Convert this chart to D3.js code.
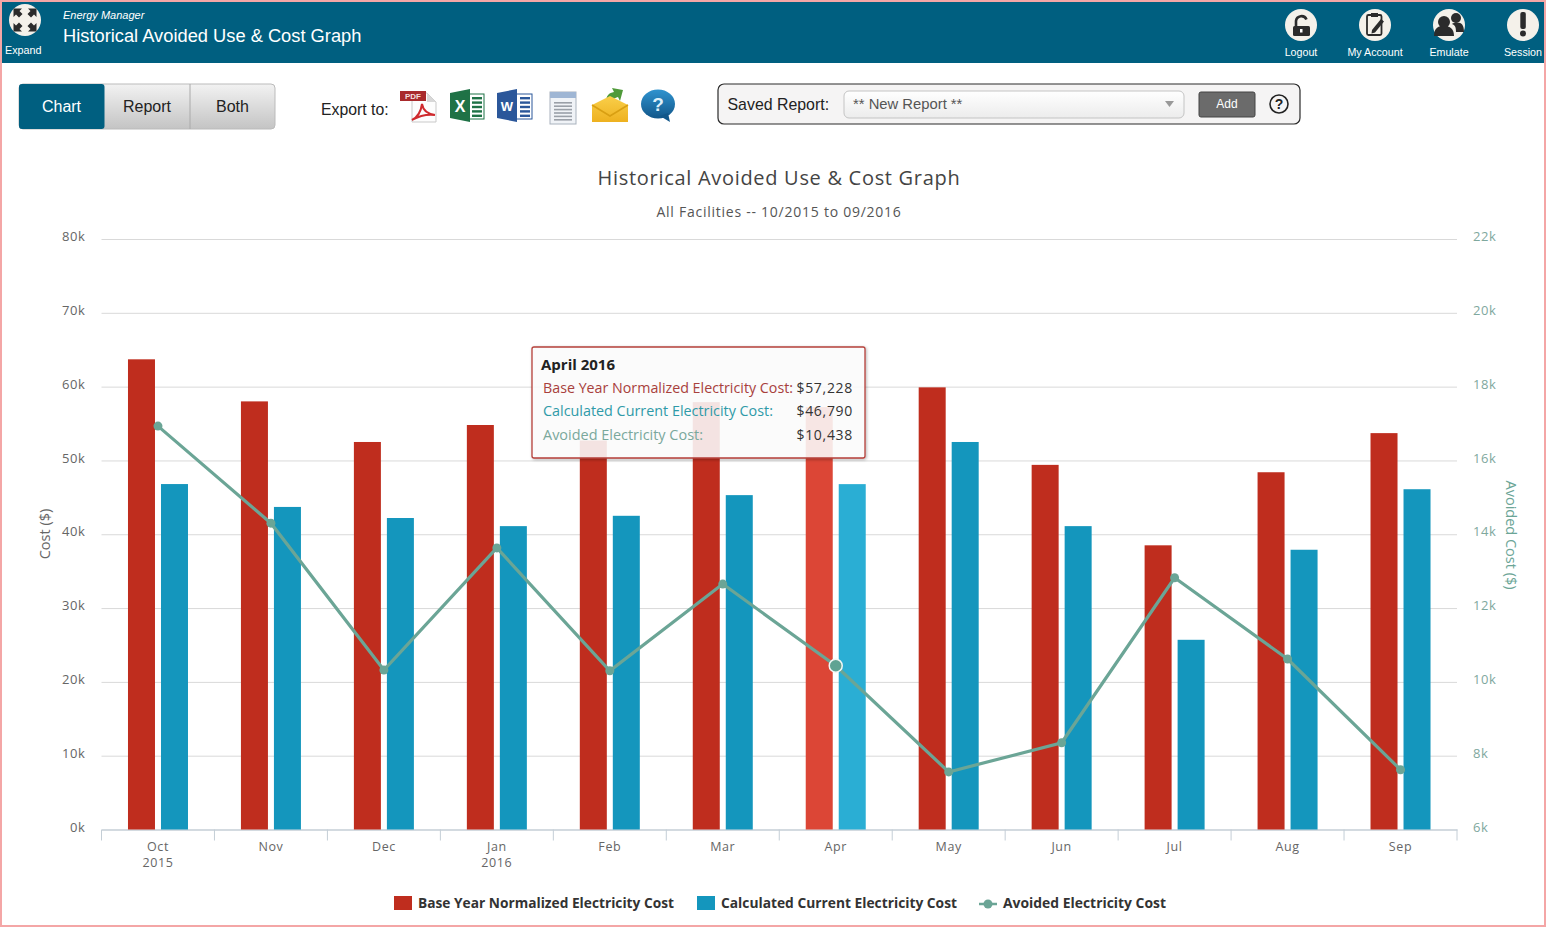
<![CDATA[<!DOCTYPE html>
<html><head><meta charset="utf-8">
<script src="https://cdn.jsdelivr.net/npm/d3@7"></script>
<style>html,body{margin:0;padding:0;background:#fff;overflow:hidden}svg{display:block}</style>
</head><body><svg id="c" width="1546" height="927"></svg>
<script>
const months=["Oct","Nov","Dec","Jan","Feb","Mar","Apr","May","Jun","Jul","Aug","Sep"];
const years={Oct:"2015",Jan:"2016"};
const baseCost=[63700,58000,52500,54800,52700,57900,57228,59900,49400,38500,48400,53700];
const currentCost=[46800,43700,42200,41100,42500,45300,46790,52500,41100,25700,37900,46100];
const avoidedCost=[16930,14300,10320,13630,10300,12650,10438,7560,8350,12820,10620,7620];
const leftTicks=[0,10000,20000,30000,40000,50000,60000,70000,80000];
const rightTicks=[6000,8000,10000,12000,14000,16000,18000,20000,22000];
const seriesNames=["Base Year Normalized Electricity Cost","Calculated Current Electricity Cost","Avoided Electricity Cost"];
const hoverIndex=6;
const RED="#bf2d1e",BLUE="#1496bd",GREEN="#6ba596",TEAL="#005f80",INK="#2b2b2b",PAPER="#f4f1ea";
const F="'Open Sans',sans-serif",A="'Liberation Sans',Arial,sans-serif";
const svg=d3.select("#c");
function T(x,y,s,o={}){const t=svg.append("text").attr("x",x).attr("y",y).text(s)
 .attr("font-family",o.f||A).attr("font-size",o.s||12).attr("fill",o.c||"#333")
 .attr("text-anchor",o.a||"start");
 if(o.w)t.attr("font-weight",o.w);if(o.i)t.attr("font-style","italic");
 if(o.ls)t.style("letter-spacing",o.ls);if(o.len)t.attr("textLength",o.len).attr("lengthAdjust","spacingAndGlyphs");return t;}
function R(x,y,w,h,f,o={}){return svg.append("rect").attr("x",x).attr("y",y).attr("width",w).attr("height",h).attr("fill",f)
 .attr("rx",o.r||0).attr("stroke",o.st||"none").attr("stroke-width",o.sw||1);}
function P(d,f,o={}){return svg.append("path").attr("d",d).attr("fill",f).attr("stroke",o.st||"none").attr("stroke-width",o.sw||1);}
function C(x,y,r,f){return svg.append("circle").attr("cx",x).attr("cy",y).attr("r",r).attr("fill",f);}
const defs=svg.append("defs");
function grad(id,a,b){const g=defs.append("linearGradient").attr("id",id).attr("x1",0).attr("x2",0).attr("y1",0).attr("y2",1);
 g.append("stop").attr("offset",0).attr("stop-color",a);g.append("stop").attr("offset",1).attr("stop-color",b);}
grad("btn","#f2f2f2","#c4c4c4");grad("sel","#ffffff","#ececec");grad("hlp","#2f93cf","#12578a");grad("mail","#f9cf4a","#eeb11f");
const fl=defs.append("filter").attr("id","sh").attr("x","-5%").attr("y","-5%").attr("width","112%").attr("height","115%");
fl.append("feDropShadow").attr("dx",1).attr("dy",1).attr("stdDeviation",1.5).attr("flood-color","#000").attr("flood-opacity",.3);

/* page chrome */
R(0,2,1546,61,TEAL);
C(25,20,16,PAPER);
[[-1,-1],[1,-1],[-1,1],[1,1]].forEach(([a,b])=>{
 P(`M${25+a*11.5} ${20+b*10}L${25+a*11.5} ${20+b*3}L${25+a*9} ${20+b*5.5}L${25+a*6} ${20+b*2.500}L${25+a*2.500} ${20+b*6}L${25+a*5.500} ${20+b*9}L${25+a*3} ${20+b*11.500}L${25+a*11.500} ${20+b*11.500}Z`,INK);});
T(5,54,"Expand",{s:10.8,c:"#fff"});
T(63,19,"Energy Manager",{s:11,c:"#fff",i:1});
T(63,42,"Historical Avoided Use & Cost Graph",{s:18.3,c:"#fff"});
[[1301,"Logout"],[1375,"My Account"],[1449,"Emulate"],[1523,"Session"]].forEach(([x,s])=>{C(x,25,16,PAPER);T(x,56,s,{s:10.7,c:"#fff",a:"middle"});});
R(1293,26,17,10,INK,{r:1.5});P("M1296 26v-5a5.500 5.500 0 0 1 10.500 -1.500","none",{st:INK,sw:2.6});R(1300,29,2.500,3.500,"#fff");
R(1367,15,14.500,20,PAPER,{st:INK,sw:1.8,r:1.5});R(1371,13,7,4,INK);P("M1372 30l9-11 3 2.500-9 11-3.500 1z",INK);
[[1444,22,6],[1456,18,5]].forEach(([x,y,r])=>C(x,y,r,INK));
P("M1434 36c0-9 5-10 10-10s10 2 10 10z",INK);P("M1456 32c0-5-1-7-4-8 1-1 3-1.500 5-1.500 5 0 7 3 7 9.500z",INK);
R(1520.300,12,5.500,17,INK,{r:2});C(1523,33.500,3,INK);

R(19,84,256,45,"url(#btn)",{r:4,st:"#bbb"});
R(19,84,85.5,45,TEAL,{r:3});
svg.append("line").attr("x1",190).attr("x2",190).attr("y1",84).attr("y2",129).attr("stroke","#aaa");
T(61.5,112,"Chart",{s:16,c:"#fff",a:"middle"});T(147,112,"Report",{s:16,c:"#222",a:"middle"});T(232.5,112,"Both",{s:16,c:"#222",a:"middle"});
T(321,115,"Export to:",{s:15.8,c:"#222"});
/* pdf */
P("M412 93h15l9 9v20h-24z","#fdfdfd",{st:"#c9c9c9"});P("M427 93v9h9z","#d8d8d8");
R(400,91,26,10,"#a92a2c");T(413,99,"PDF",{s:8,c:"#f3dcdc",a:"middle",w:"bold"});
P("M412 120c6-3 9-9 10-16 1 6 5 10 13 11-8-1-16 1-23 5z","none",{st:"#cf2a2e",sw:2});
/* excel */
R(464,94,20,25,"#fff",{st:"#1f7246"});P("M450 93l20-4v33l-20-4z","#1f7246");T(460,112,"X",{s:16,c:"#fff",a:"middle",w:"bold"});
for(let i=0;i<5;i++)R(472,97+i*4.4,10,2.4,"#1f7246");
/* word */
R(512,94,20,25,"#fff",{st:"#2b579a"});P("M497 93l20-4v33l-20-4z","#2b579a");T(507,111,"W",{s:13,c:"#fff",a:"middle",w:"bold"});
for(let i=0;i<5;i++)R(520,97+i*4.4,10,2.4,"#2b579a");
/* doc */
R(550,92,26,32,"#f0f3f7",{st:"#a9b2bd"});R(550,92,26,6,"#9fb6d4");
for(let i=0;i<6;i++)R(554,102+i*3.4,18,1.6,"#9aa0a8");
/* mail */
P("M606 103c0-8 3-10 8-11l-2-4 11 2-3 11-2-4c-4 1-6 3-7 7z","#4f9a3a");
P("M592 105l18-9 18 9v17h-36z","url(#mail)");P("M592 105l18 11 18-11","none",{st:"#d99f12",sw:1.5});
/* help */
svg.append("ellipse").attr("cx",658).attr("cy",104).attr("rx",17).attr("ry",14.500).attr("fill","url(#hlp)");
P("M660 116l10 6-2-9z","#12578a");
T(658,111,"?",{s:19,c:"#dff0fa",a:"middle",w:"bold"});

R(718,84,582,40,"#f5f4f4",{r:6,st:"#2a2a2a",sw:1.2});
T(727.5,110,"Saved Report:",{s:15.9,c:"#222"});
R(844,91,340,27,"url(#sel)",{r:5,st:"#c4c4c4"});
T(853,109,"** New Report **",{s:14.8,c:"#555"});
P("M1165 101h9l-4.500 6z","#999");
R(1199,92,56,25,"#6b6b6b",{r:2,st:"#444"});T(1227,108,"Add",{s:12,c:"#fff",a:"middle"});
svg.append("circle").attr("cx",1279).attr("cy",104).attr("r",9).attr("fill","none").attr("stroke","#222").attr("stroke-width",1.6);
T(1279,109,"?",{s:14,c:"#222",a:"middle",w:"bold"});

/* chart */
T(779,185,"Historical Avoided Use & Cost Graph",{f:F,s:20,c:"#444",a:"middle",ls:"0.7px"});
T(779,217,"All Facilities -- 10/2015 to 09/2016",{f:F,s:14,c:"#555",a:"middle",ls:"0.75px"});

const plot={l:101.5,r:1457,t:239,b:829.5};
const x=d3.scaleBand().domain(months).range([plot.l,plot.r]);
const inner=d3.scaleBand().domain(["base","current"]).range([-30,30]).paddingInner(6/33);
const yL=d3.scaleLinear().domain([0,80000]).range([plot.b,plot.t]);
const yR=d3.scaleLinear().domain([6000,22000]).range([plot.b,plot.t]);
const fmtK=d=>d/1000+"k";
const cx=d=>x(d)+x.bandwidth()/2;

const gl=svg.append("g").attr("transform",`translate(${plot.l},0)`)
 .call(d3.axisLeft(yL).tickValues(leftTicks).tickFormat(fmtK).tickSize(-(plot.r-plot.l)).tickPadding(16));
gl.select(".domain").remove();
gl.selectAll("line").attr("stroke","#d9d9d9");
gl.selectAll("text").attr("font-family",F).attr("font-size",13).attr("fill","#666").attr("dy","0.12em").style("letter-spacing","0.6px");
gl.selectAll(".tick").filter(d=>d===0).select("line").remove();

const gr=svg.append("g").attr("transform",`translate(${plot.r},0)`)
 .call(d3.axisRight(yR).tickValues(rightTicks).tickFormat(fmtK).tickSize(0).tickPadding(16));
gr.select(".domain").remove();
gr.selectAll("text").attr("font-family",F).attr("font-size",13).attr("fill","#7fa89e").attr("dy","0.12em").style("letter-spacing","0.6px");

const gx=svg.append("g").attr("transform",`translate(0,${plot.b})`).call(d3.axisBottom(x).tickSize(0).tickPadding(13));
gx.select(".domain").attr("stroke","#c4ced6").attr("stroke-width",1.5);
gx.selectAll("text").attr("font-family",F).attr("font-size",12.5).attr("fill","#666").style("letter-spacing","0.6px");
gx.selectAll(".tick").filter(d=>years[d]).append("text").text(d=>years[d]).attr("y",37).attr("fill","#666")
 .attr("font-family",F).attr("font-size",12.5).attr("text-anchor","middle").style("letter-spacing","0.6px");
svg.append("g").selectAll("line").data([...months,null]).join("line")
 .attr("x1",d=>d?x(d):plot.r).attr("x2",d=>d?x(d):plot.r).attr("y1",plot.b).attr("y2",plot.b+11).attr("stroke","#c4ced6");

function bars(vals,key,col,hov){
 svg.append("g").selectAll("rect").data(vals).join("rect")
  .attr("x",(d,i)=>cx(months[i])+inner(key)).attr("width",inner.bandwidth())
  .attr("y",d=>yL(d)).attr("height",d=>plot.b-yL(d))
  .attr("fill",(d,i)=>i===hoverIndex?hov:col);
}
bars(baseCost,"base",RED,"#dc4636");
bars(currentCost,"current",BLUE,"#2aaed4");
const line=d3.line().x((d,i)=>cx(months[i])).y(d=>yR(d));
svg.append("path").attr("d",line(avoidedCost)).attr("fill","none").attr("stroke",GREEN).attr("stroke-width",3.2);
svg.append("g").selectAll("circle").data(avoidedCost).join("circle")
 .attr("cx",(d,i)=>cx(months[i])).attr("cy",d=>yR(d))
 .attr("r",(d,i)=>i===hoverIndex?6.5:4.5)
 .attr("fill",(d,i)=>i===hoverIndex?"#5fa393":GREEN)
 .attr("stroke",(d,i)=>i===hoverIndex?"#f2f7f5":"none").attr("stroke-width",1.5);

svg.append("text").attr("transform","translate(50,534) rotate(-90)").attr("text-anchor","middle").text("Cost ($)")
 .attr("font-family",F).attr("font-size",14.5).attr("fill","#666");
svg.append("text").attr("transform","translate(1506,535) rotate(90)").attr("text-anchor","middle").text("Avoided Cost ($)")
 .attr("font-family",F).attr("font-size",14.5).attr("fill",GREEN);

/* tooltip */
R(532,347,333,111,"rgba(255,255,255,0.85)",{r:2,st:"#b5403a",sw:1.3}).attr("filter","url(#sh)");
T(541,370,"April 2016",{f:F,s:15,c:"#222",w:"bold"});
const tipVals=[baseCost[hoverIndex],currentCost[hoverIndex],avoidedCost[hoverIndex]];
const tipCols=["#a8403c","#2f9aa8","#7aa89c"],tipY=[393,416,440],tipW=[250,230,160];
const fmt=d3.format("$,");
seriesNames.forEach((n,i)=>{
 T(543,tipY[i],n+":",{f:F,s:14,c:tipCols[i],len:tipW[i]});
 T(853,tipY[i],fmt(tipVals[i]),{f:F,s:14,c:"#333",a:"end",ls:"0.7px"});
});

/* legend */
const lx=[418,721,1003],lw=[256,236,163];
seriesNames.forEach((n,i)=>T(lx[i],908,n,{f:F,s:14,c:"#333",w:"bold",len:lw[i]}));
R(394,896,18,14,RED);R(697,896,18,14,BLUE);
svg.append("line").attr("x1",979).attr("x2",997).attr("y1",904).attr("y2",904).attr("stroke",GREEN).attr("stroke-width",2.5);
C(988,904,4.5,GREEN);

/* pink page border */
R(1,1,1544,925,"none",{st:"#f4a6a6",sw:2});
</script></body></html>]]>
